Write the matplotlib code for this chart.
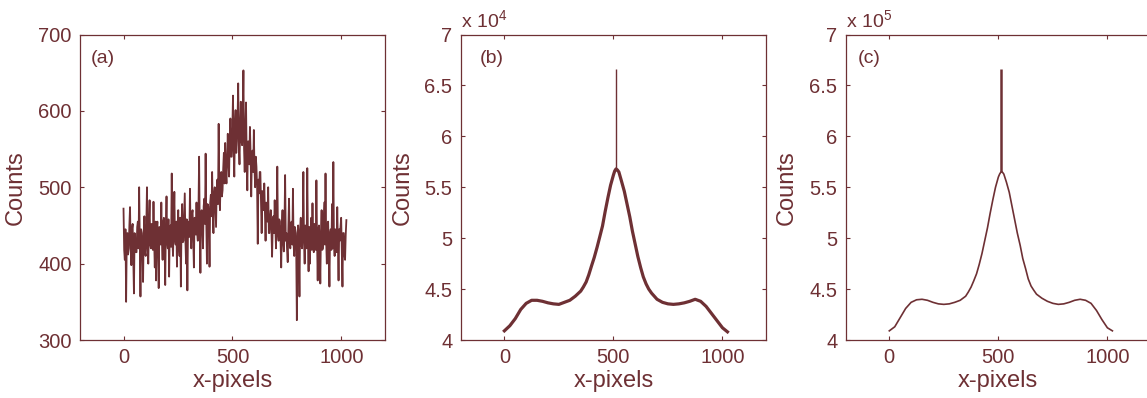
import numpy as np
import matplotlib
matplotlib.use("Agg")
import matplotlib.pyplot as plt

plt.rcParams['font.family'] = ['Liberation Sans', 'DejaVu Sans']
plt.rcParams['mathtext.fontset'] = 'custom'
plt.rcParams['mathtext.rm'] = 'Liberation Sans'

MAROON = '#6e3034'

# (a) raw counts, two values roughly every 6 pixels
counts_a = [
    472, 418, 405, 445, 350, 432, 440, 412, 420, 450, 474, 420, 398, 445, 452, 410, 361, 440, 430, 415,
    415, 448, 455, 420, 500, 425, 357, 445, 440, 418, 376, 440, 462, 415, 410, 450, 500, 420, 400, 452,
    483, 425, 420, 452, 448, 418, 481, 430, 395, 455, 378, 445, 455, 420, 368, 448, 440, 425, 480, 430,
    405, 455, 460, 425, 372, 450, 488, 428, 420, 458, 383, 445, 450, 422, 518, 430, 410, 455, 494, 432,
    425, 455, 396, 448, 470, 425, 410, 460, 370, 450, 478, 428, 430, 462, 492, 430, 400, 458, 365, 448,
    455, 435, 498, 440, 420, 465, 470, 432, 395, 460, 460, 438, 480, 440, 430, 468, 540, 445, 388, 465,
    470, 450, 420, 475, 485, 452, 544, 455, 400, 478, 475, 455, 396, 480, 490, 462, 520, 470, 440, 492,
    500, 475, 448, 495, 510, 478, 583, 490, 470, 510, 520, 488, 496, 525, 545, 505, 558, 520, 505, 540,
    570, 535, 514, 565, 590, 540, 540, 575, 620, 548, 514, 580, 601, 545, 560, 590, 636, 555, 530, 580,
    612, 560, 555, 590, 653, 550, 520, 575, 611, 540, 496, 560, 560, 530, 579, 545, 488, 540, 548, 520,
    575, 525, 500, 540, 527, 500, 426, 510, 492, 520, 520, 480, 440, 495, 480, 470, 505, 465, 430, 480,
    475, 455, 500, 440, 440, 462, 470, 445, 409, 450, 462, 440, 483, 448, 420, 460, 527, 440, 430, 458,
    455, 430, 395, 450, 470, 428, 416, 452, 516, 430, 440, 418, 402, 448, 485, 428, 420, 452, 455, 425,
    498, 425, 410, 448, 440, 420, 326, 440, 450, 418, 357, 445, 460, 425, 420, 448, 520, 428, 400, 450,
    445, 420, 525, 432, 390, 448, 400, 440, 460, 418, 479, 425, 415, 452, 440, 418, 509, 430, 378, 445,
    450, 422, 374, 442, 470, 418, 420, 450, 480, 425, 518, 430, 400, 452, 455, 420, 370, 440, 445, 418,
    478, 420, 533, 425, 410, 445, 440, 415, 474, 422, 378, 445, 430, 448, 460, 415, 370, 440, 440, 412,
    405, 438, 457,
]

# (b) counts x 10^4
pix_b = [0, 25, 50, 75, 100, 125, 150, 175, 200, 225, 250, 275, 300, 325, 350,
         362, 375, 387, 400, 412, 425, 437, 450, 462, 475, 487, 500, 506, 512,
         518, 525, 537, 550, 562, 575, 587, 600, 612, 625, 637, 650, 662, 675,
         700, 725, 750, 775, 800, 825, 850, 875, 900, 925, 950, 975, 1000, 1023]
counts_b = [4.09, 4.14, 4.21, 4.30, 4.36, 4.39, 4.39, 4.38, 4.365, 4.355, 4.35,
            4.37, 4.39, 4.43, 4.48,
            4.52, 4.57, 4.64, 4.73, 4.81, 4.91, 5.01, 5.12, 5.26, 5.40, 5.52,
            5.62, 5.66, 5.68, 5.67, 5.65, 5.56, 5.46, 5.34, 5.21, 5.07, 4.94,
            4.82, 4.71, 4.62, 4.55, 4.50, 4.46,
            4.40, 4.37, 4.355, 4.35, 4.355, 4.365, 4.38, 4.40, 4.38, 4.33, 4.26,
            4.19, 4.12, 4.08]
spike_b = (513, 6.66)

# (c) counts x 10^5
pix_c = pix_b
counts_c = [4.09, 4.13, 4.22, 4.31, 4.37, 4.395, 4.40, 4.39, 4.37, 4.355, 4.35,
            4.355, 4.37, 4.39, 4.43,
            4.47, 4.52, 4.58, 4.65, 4.74, 4.85, 4.97, 5.10, 5.24, 5.38, 5.50,
            5.60, 5.63, 5.65, 5.65, 5.63, 5.55, 5.45, 5.32, 5.18, 5.05, 4.93,
            4.80, 4.70, 4.60, 4.53, 4.49, 4.45,
            4.41, 4.38, 4.36, 4.35, 4.355, 4.37, 4.39, 4.40, 4.39, 4.36, 4.29,
            4.20, 4.12, 4.09]
spike_c = (512, 6.66)

fig = plt.figure(figsize=(11.47, 3.98), dpi=100)
bottom, height = 0.1457, 0.7676
ax_a = fig.add_axes([0.0697, bottom, 0.2659, height])
ax_b = fig.add_axes([0.4017, bottom, 0.2662, height])
ax_c = fig.add_axes([0.7373, bottom, 0.2662, height])

x_a = np.linspace(0, 1023, len(counts_a))
ax_a.plot(x_a, counts_a, color=MAROON, lw=1.3)
ax_a.set_ylim(300, 700)
ax_a.set_yticks([300, 400, 500, 600, 700])

ax_b.plot(pix_b, counts_b, color=MAROON, lw=2.3)
ax_b.vlines(spike_b[0], np.interp(spike_b[0], pix_b, counts_b), spike_b[1],
            color=MAROON, lw=1.0)

ax_c.plot(pix_c, counts_c, color=MAROON, lw=1.2)
ax_c.vlines(spike_c[0], np.interp(spike_c[0], pix_c, counts_c), spike_c[1],
            color=MAROON, lw=1.8)

ytick_labels = ['4', '4.5', '5', '5.5', '6', '6.5', '7']
for ax, exp in ((ax_b, 4), (ax_c, 5)):
    ax.set_ylim(4, 7)
    ax.set_yticks([4, 4.5, 5, 5.5, 6, 6.5, 7])
    ax.set_yticklabels(ytick_labels)
    ax.text(0.0, 1.021, r'x 10$^{\mathregular{%d}}$' % exp, transform=ax.transAxes,
            fontsize=14, color=MAROON, ha='left', va='baseline')

for ax, lab, lx in ((ax_a, '(a)', 0.036), (ax_b, '(b)', 0.061), (ax_c, '(c)', 0.041)):
    ax.set_xlim(-200, 1200)
    ax.set_xticks([0, 500, 1000])
    ax.tick_params(direction='in', top=True, right=True, length=3, width=0.8,
                   color=MAROON, labelcolor=MAROON, labelsize=14.5, pad=6)
    for s in ax.spines.values():
        s.set_color(MAROON)
        s.set_linewidth(0.9)
    ax.set_xlabel('x-pixels', fontsize=17, color=MAROON, labelpad=2)
    ax.set_ylabel('Counts', fontsize=17, color=MAROON, labelpad=8)
    ax.text(lx, 0.921, lab, transform=ax.transAxes, fontsize=14, color=MAROON,
            ha='left', va='center')

fig.savefig('out.png', dpi=100)
